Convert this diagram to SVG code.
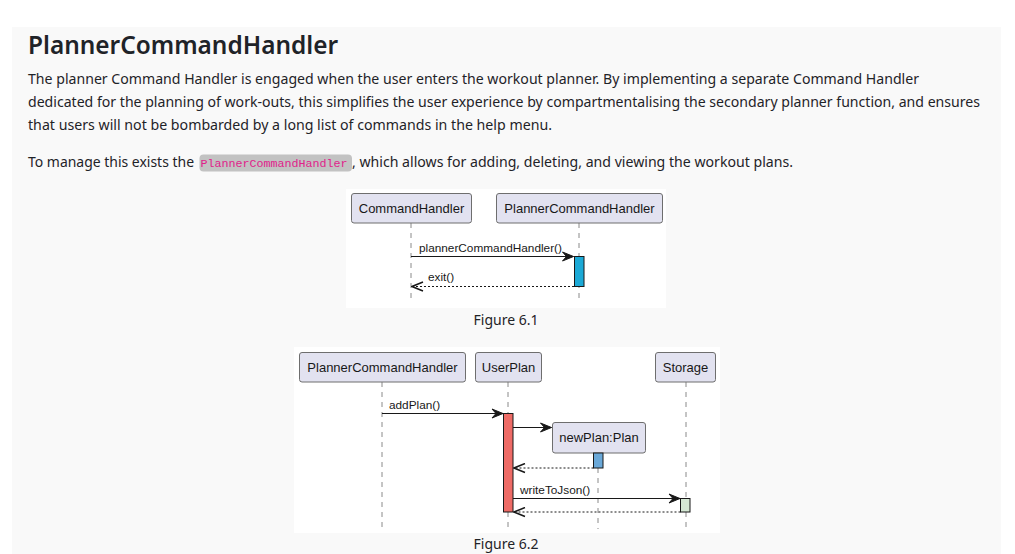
<svg xmlns="http://www.w3.org/2000/svg" width="1015" height="554" viewBox="0 0 1015 554">
<style>
  .body { font-family: "Noto Sans", "Open Sans", "Liberation Sans", sans-serif; font-size: 14px; fill: #1f2328; }
  .title { font-family: "Noto Sans", "Open Sans", "Liberation Sans", sans-serif; font-size: 25px; font-weight: 600; fill: #1f2328; }
  .code { font-family: "Liberation Mono", "DejaVu Sans Mono", monospace; font-size: 11.7px; fill: #e0218a; }
  .part { fill: #e2e2f0; stroke: #6e6e6e; stroke-width: 1; }
  .ptext { font-family: "Liberation Sans", Arial, sans-serif; font-size: 13px; fill: #181818; text-anchor: middle; }
  .mtext { font-family: "Liberation Sans", Arial, sans-serif; font-size: 11.8px; fill: #181818; }
  .life { stroke: #8a8a8a; stroke-width: 1; stroke-dasharray: 5,5; fill: none; }
  .msg { stroke: #181818; stroke-width: 1; fill: none; }
  .ret { stroke: #181818; stroke-width: 1; stroke-dasharray: 2,2; fill: none; }
  .act { stroke: #181818; stroke-width: 1; }
  .cap { font-family: "Noto Sans", "Open Sans", "Liberation Sans", sans-serif; font-size: 14px; fill: #1f2328; text-anchor: middle; }
</style>
<defs>
  <marker id="sync" markerWidth="13" markerHeight="11" refX="12" refY="5.5" orient="auto" markerUnits="userSpaceOnUse">
    <polygon points="1,1 12,5.5 1,10 5,5.5" fill="#181818" stroke="#181818" stroke-width="1"/>
  </marker>
  <marker id="open" markerWidth="13" markerHeight="11" refX="12" refY="5.5" orient="auto" markerUnits="userSpaceOnUse">
    <polyline points="1,1 12,5.5 1,10" fill="none" stroke="#181818" stroke-width="1.5"/>
  </marker>
</defs>

<rect x="0" y="0" width="1015" height="554" fill="#ffffff"/>
<rect x="12" y="27" width="989" height="527" fill="#f9f9f9"/>

<g id="text">
  <text class="title" x="28" y="54" textLength="310" lengthAdjust="spacingAndGlyphs">PlannerCommandHandler</text>
  <text class="body" x="28" y="84" textLength="891" lengthAdjust="spacingAndGlyphs">The planner Command Handler is engaged when the user enters the workout planner. By implementing a separate Command Handler</text>
  <text class="body" x="28" y="107" textLength="952" lengthAdjust="spacingAndGlyphs">dedicated for the planning of work-outs, this simplifies the user experience by compartmentalising the secondary planner function, and ensures</text>
  <text class="body" x="28" y="130" textLength="524" lengthAdjust="spacingAndGlyphs">that users will not be bombarded by a long list of commands in the help menu.</text>
  <text class="body" x="28" y="167" textLength="166" lengthAdjust="spacingAndGlyphs">To manage this exists the</text>
  <rect x="199.5" y="154.5" width="152.5" height="17" rx="4" fill="#c2c2c2"/>
  <text class="code" x="200.5" y="167" textLength="147" lengthAdjust="spacingAndGlyphs">PlannerCommandHandler</text>
  <text class="body" x="352" y="167" textLength="441" lengthAdjust="spacingAndGlyphs">, which allows for adding, deleting, and viewing the workout plans.</text>
</g>

<!-- Figure 6.1 -->
<rect x="346" y="189" width="320" height="119" fill="#ffffff"/>
<g id="fig61-lifelines">
  <line class="life" x1="411" y1="223" x2="411" y2="303"/>
  <line class="life" x1="579" y1="223" x2="579" y2="303"/>
</g>
<g id="fig61-CommandHandler">
  <rect class="part" x="351.5" y="193.5" width="120" height="29.5" rx="2.5"/>
  <text class="ptext" x="411.5" y="212.7">CommandHandler</text>
</g>
<g id="fig61-PlannerCommandHandler">
  <rect class="part" x="496.5" y="193.5" width="166" height="29.5" rx="2.5"/>
  <text class="ptext" x="579.5" y="212.7">PlannerCommandHandler</text>
  <rect class="act" x="574.5" y="256.5" width="9.5" height="30" fill="#1ba9d6"/>
</g>
<g id="fig61-connectors">
  <line class="msg" x1="411" y1="256.5" x2="573.5" y2="256.5" marker-end="url(#sync)"/>
  <text class="mtext" x="419" y="251.5">plannerCommandHandler()</text>
  <line class="ret" x1="574" y1="286.5" x2="412" y2="286.5" marker-end="url(#open)"/>
  <text class="mtext" x="428" y="281">exit()</text>
</g>
<text class="cap" x="506" y="325">Figure 6.1</text>

<!-- Figure 6.2 -->
<rect x="294" y="347" width="426" height="186" fill="#ffffff"/>
<g id="fig62-lifelines">
  <line class="life" x1="382" y1="382" x2="382" y2="529"/>
  <line class="life" x1="508" y1="382" x2="508" y2="529"/>
  <line class="life" x1="598" y1="468" x2="598" y2="529"/>
  <line class="life" x1="686" y1="382" x2="686" y2="529"/>
</g>
<g id="fig62-PlannerCommandHandler">
  <rect class="part" x="299.5" y="352.5" width="166" height="29.5" rx="2.5"/>
  <text class="ptext" x="382.5" y="371.7">PlannerCommandHandler</text>
</g>
<g id="fig62-UserPlan">
  <rect class="part" x="475.5" y="352.5" width="66" height="29.5" rx="2.5"/>
  <text class="ptext" x="508.5" y="371.7">UserPlan</text>
  <rect class="act" x="503.5" y="413.5" width="9.5" height="98.5" fill="#ee6b66"/>
</g>
<g id="fig62-Storage">
  <rect class="part" x="655.5" y="352.5" width="60" height="29.5" rx="2.5"/>
  <text class="ptext" x="685.5" y="371.7">Storage</text>
  <rect class="act" x="680.5" y="498.5" width="9.5" height="13.5" fill="#d5e8d4"/>
</g>
<g id="fig62-newPlan">
  <rect class="part" x="552.5" y="422.5" width="93" height="30.5" rx="2.5"/>
  <text class="ptext" x="599" y="442.2">newPlan:Plan</text>
  <rect class="act" x="593.5" y="453" width="9.5" height="15" fill="#6aa8d8"/>
</g>
<g id="fig62-connectors">
  <line class="msg" x1="382" y1="413.5" x2="503" y2="413.5" marker-end="url(#sync)"/>
  <text class="mtext" x="389" y="409">addPlan()</text>
  <line class="msg" x1="513" y1="427.5" x2="551.5" y2="427.5" marker-end="url(#sync)"/>
  <line class="ret" x1="593.5" y1="468" x2="514" y2="468" marker-end="url(#open)"/>
  <line class="msg" x1="513" y1="498.5" x2="680" y2="498.5" marker-end="url(#sync)"/>
  <text class="mtext" x="520" y="494">writeToJson()</text>
  <line class="ret" x1="680.5" y1="512" x2="514" y2="512" marker-end="url(#open)"/>
</g>
<text class="cap" x="506" y="549">Figure 6.2</text>
</svg>
